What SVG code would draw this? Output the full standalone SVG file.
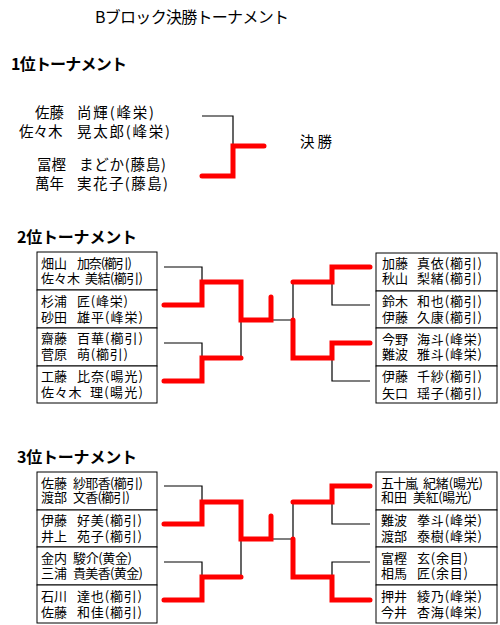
<svg xmlns="http://www.w3.org/2000/svg" width="500" height="625" viewBox="0 0 500 625">
<style>
text{font-family:"Noto Sans CJK JP","Noto Sans CJK SC",sans-serif;fill:#000}
.t{font-size:16px}
.h{font-size:16px;font-weight:bold}
.n1{font-size:14.5px}
.n{font-size:13px}
.box{fill:#fff;stroke:#000;stroke-width:1}
.bk{fill:none;stroke:#000;stroke-width:1.2}
.rd{fill:none;stroke:#f00;stroke-width:5;stroke-linecap:round;stroke-linejoin:miter}
</style>
<rect width="500" height="625" fill="#fff"/>
<g id="titles">
<text class="t" x="95" y="23" textLength="194">Bブロック決勝トーナメント</text>
<text class="h" x="11" y="70" textLength="116">1位トーナメント</text>
<text class="h" x="17" y="243" textLength="120">2位トーナメント</text>
<text class="h" x="17" y="463" textLength="120">3位トーナメント</text>
<text class="n1" x="300" y="147" textLength="32">決勝</text>
</g>
<g id="s1-team1">
<text class="n1" y="118"><tspan x="35">佐藤 </tspan><tspan x="77" textLength="77">尚輝(峰栄)</tspan></text>
<text class="n1" y="137"><tspan x="19">佐々木 </tspan><tspan x="77" textLength="93">晃太郎(峰栄)</tspan></text>
</g>
<g id="s1-team2">
<text class="n1" y="170"><tspan x="37">冨樫 </tspan><tspan x="79" textLength="87">まどか(藤島)</tspan></text>
<text class="n1" y="189"><tspan x="35">萬年 </tspan><tspan x="77" textLength="91">実花子(藤島)</tspan></text>
</g>
<g id="s2-L1"><rect class="box" x="37" y="252" width="120" height="38"/>
<text class="n" y="267.5"><tspan x="41">畑山 </tspan><tspan x="77" textLength="55">加奈(櫛引)</tspan></text>
<text class="n" y="283"><tspan x="41">佐々木 </tspan><tspan x="85" textLength="58">美結(櫛引)</tspan></text></g>
<g id="s2-L2"><rect class="box" x="37" y="290" width="120" height="38"/>
<text class="n" y="306"><tspan x="41">杉浦 </tspan><tspan x="77" textLength="51">匠(峰栄)</tspan></text>
<text class="n" y="321.5"><tspan x="41">砂田 </tspan><tspan x="77" textLength="66">雄平(峰栄)</tspan></text></g>
<g id="s2-L3"><rect class="box" x="37" y="328" width="120" height="38"/>
<text class="n" y="343"><tspan x="41">齋藤 </tspan><tspan x="77" textLength="66">百華(櫛引)</tspan></text>
<text class="n" y="359"><tspan x="41">菅原 </tspan><tspan x="77" textLength="51">萌(櫛引)</tspan></text></g>
<g id="s2-L4"><rect class="box" x="37" y="366" width="120" height="37"/>
<text class="n" y="380.5"><tspan x="41">工藤 </tspan><tspan x="77" textLength="66">比奈(暘光)</tspan></text>
<text class="n" y="397"><tspan x="41" textLength="44">佐々木 </tspan><tspan x="90" textLength="53">理(暘光)</tspan></text></g>
<g id="s2-R1"><rect class="box" x="376" y="253" width="121" height="38"/>
<text class="n" y="267.5"><tspan x="382">加藤 </tspan><tspan x="417" textLength="65">真依(櫛引)</tspan></text>
<text class="n" y="283"><tspan x="382">秋山 </tspan><tspan x="417" textLength="65">梨緒(櫛引)</tspan></text></g>
<g id="s2-R2"><rect class="box" x="376" y="291" width="121" height="37"/>
<text class="n" y="306"><tspan x="382">鈴木 </tspan><tspan x="417" textLength="65">和也(櫛引)</tspan></text>
<text class="n" y="321.5"><tspan x="382">伊藤 </tspan><tspan x="417" textLength="65">久康(櫛引)</tspan></text></g>
<g id="s2-R3"><rect class="box" x="376" y="328" width="121" height="38"/>
<text class="n" y="344"><tspan x="382">今野 </tspan><tspan x="417" textLength="65">海斗(峰栄)</tspan></text>
<text class="n" y="359"><tspan x="382">難波 </tspan><tspan x="417" textLength="65">雅斗(峰栄)</tspan></text></g>
<g id="s2-R4"><rect class="box" x="376" y="366" width="121" height="37"/>
<text class="n" y="381"><tspan x="382">伊藤 </tspan><tspan x="417" textLength="65">千紗(櫛引)</tspan></text>
<text class="n" y="397.5"><tspan x="382">矢口 </tspan><tspan x="417" textLength="65">瑶子(櫛引)</tspan></text></g>
<g id="s3-L1"><rect class="box" x="37" y="472" width="120" height="38"/>
<text class="n" y="487.5"><tspan x="41">佐藤 </tspan><tspan x="73" textLength="70">紗耶香(櫛引)</tspan></text>
<text class="n" y="502"><tspan x="41">渡部 </tspan><tspan x="73" textLength="57">文香(櫛引)</tspan></text></g>
<g id="s3-L2"><rect class="box" x="37" y="510" width="120" height="37"/>
<text class="n" y="525"><tspan x="41">伊藤 </tspan><tspan x="77" textLength="65">好美(櫛引)</tspan></text>
<text class="n" y="541"><tspan x="41">井上 </tspan><tspan x="77" textLength="65">苑子(櫛引)</tspan></text></g>
<g id="s3-L3"><rect class="box" x="37" y="547" width="120" height="38"/>
<text class="n" y="563"><tspan x="41">金内 </tspan><tspan x="73" textLength="59">駿介(黄金)</tspan></text>
<text class="n" y="578"><tspan x="41">三浦 </tspan><tspan x="73" textLength="70">貴美香(黄金)</tspan></text></g>
<g id="s3-L4"><rect class="box" x="37" y="585" width="120" height="38"/>
<text class="n" y="600.5"><tspan x="41">石川 </tspan><tspan x="77" textLength="65">達也(櫛引)</tspan></text>
<text class="n" y="617"><tspan x="41">佐藤 </tspan><tspan x="77" textLength="65">和佳(櫛引)</tspan></text></g>
<g id="s3-R1"><rect class="box" x="376" y="472" width="121" height="38"/>
<text class="n" y="487.5"><tspan x="381" textLength="39">五十嵐 </tspan><tspan x="423" textLength="60">紀緒(暘光)</tspan></text>
<text class="n" y="502"><tspan x="381">和田 </tspan><tspan x="413" textLength="59">美紅(暘光)</tspan></text></g>
<g id="s3-R2"><rect class="box" x="376" y="510" width="121" height="37"/>
<text class="n" y="525"><tspan x="381">難波 </tspan><tspan x="417" textLength="65">拳斗(峰栄)</tspan></text>
<text class="n" y="541"><tspan x="381">渡部 </tspan><tspan x="417" textLength="65">泰樹(峰栄)</tspan></text></g>
<g id="s3-R3"><rect class="box" x="376" y="547" width="121" height="38"/>
<text class="n" y="562.5"><tspan x="381">富樫 </tspan><tspan x="417" textLength="51">玄(余目)</tspan></text>
<text class="n" y="578"><tspan x="381">相馬 </tspan><tspan x="417" textLength="51">匠(余目)</tspan></text></g>
<g id="s3-R4"><rect class="box" x="376" y="585" width="121" height="38"/>
<text class="n" y="601"><tspan x="381">押井 </tspan><tspan x="417" textLength="65">綾乃(峰栄)</tspan></text>
<text class="n" y="616.5"><tspan x="381">今井 </tspan><tspan x="417" textLength="65">杏海(峰栄)</tspan></text></g>
<g id="connectors">
<path class="bk" d="M202,116H233V146"/>
<path class="rd" d="M202,176H233V146H264"/>
<path class="bk" d="M164,267H202V282M164,343H202V358M241,320V358M271,320H293V282M332,266V305H370M332,358V381H370"/>
<path class="rd" d="M164,305H202V282H241V320H271V297"/>
<path class="rd" d="M164,381H202V358H241"/>
<path class="rd" d="M293,282H332V267H370"/>
<path class="rd" d="M293,320V358H332V343H370"/>
<path class="bk" d="M164,486H202V502M164,562H202V577M241,539V577M271,539H293V502M332,502V524H370M332,577V562H370"/>
<path class="rd" d="M164,524H202V502H241V539H271V516"/>
<path class="rd" d="M164,600H202V577H241"/>
<path class="rd" d="M293,502H332V486H370"/>
<path class="rd" d="M293,539V577H332V600H370"/>
</g>
</svg>
